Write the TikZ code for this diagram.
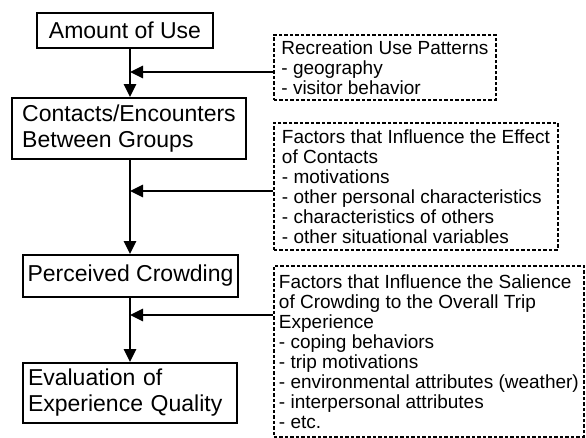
\documentclass[tikz,border=0pt]{standalone}
\usepackage{fontspec}
\setmainfont{Liberation Sans}
\usetikzlibrary{arrows.meta}
\tikzset{box/.style = {draw,line width=1.9pt,align=left,inner sep=0pt,font=\fontsize{23}{26}\selectfont},
         note/.style = {draw,line width=1.8pt,dash pattern=on 3.5pt off 2pt,align=left,anchor=north west,inner sep=0pt,font=\fontsize{19}{20}\selectfont},
         flow/.style = {line width=2.6pt,-{Triangle[length=13pt,width=12pt]}}}

\begin{document}
\begin{tikzpicture}[x=1pt,y=-1pt]
                    \useasboundingbox (0,0) rectangle (586,438);
                    \node[box,minimum width=176pt,minimum height=35pt] (use) at (125,30.5) {Amount of Use};
                    \node[box,minimum width=234pt,minimum height=61pt] (contacts) at (129,128.5) {Contacts/Encounters\\Between Groups};
                    \node[box,minimum width=215pt,minimum height=42pt] (crowd) at (130.5,276) {Perceived Crowding};
                    \node[box,text width=204pt,inner xsep=5pt,minimum height=60pt] (eval) at (130,393) {Evaluation of\\Experience Quality};
                    \node[note,minimum width=222pt,minimum height=65pt] (rec) at (273,34) {Recreation Use Patterns\\- geography\\- visitor behavior};
                    \node[note,minimum width=284pt,minimum height=127pt] (eff) at (273,122) {Factors that Influence the Effect\\of Contacts\\- motivations\\- other personal characteristics\\- characteristics of others\\- other situational variables};
                    \node[note,minimum width=310pt,minimum height=171pt] (sal) at (273,265) {Factors that Influence the Salience\\of Crowding to the Overall Trip\\Experience\\- coping behaviors\\- trip motivations\\- environmental attributes (weather)\\- interpersonal attributes\\- etc.};
                    \coordinate (j1) at (130,72);
                    \coordinate (j2) at (130,191);
                    \coordinate (j3) at (130,315);
                    \draw[flow] (use.south -| j1) to (contacts.north -| j1);
                    \draw[flow] (contacts.south -| j1) to (crowd.north -| j1);
                    \draw[flow] (crowd.south -| j1) to (eval.north -| j1);
                    \draw[flow] (rec.west |- j1) to (j1);
                    \draw[flow] (eff.west |- j2) to (j2);
                    \draw[flow] (sal.west |- j3) to (j3);
                \end{tikzpicture}
\end{document}
